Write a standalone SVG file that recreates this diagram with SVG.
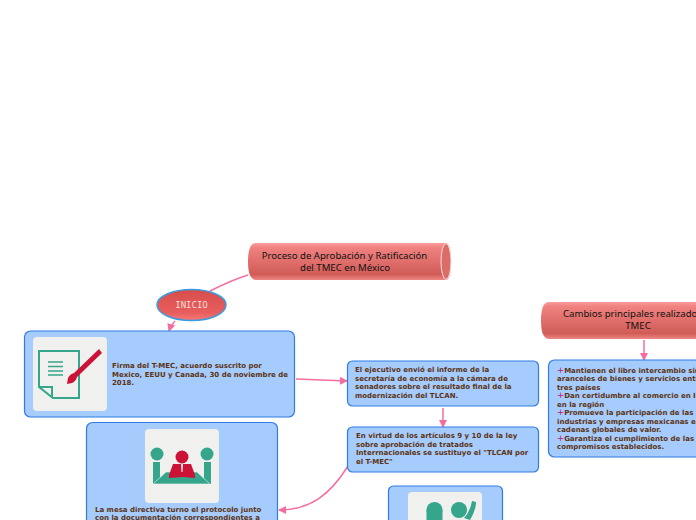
<svg xmlns="http://www.w3.org/2000/svg" width="696" height="520" viewBox="0 0 696 520">
<style>
.box{fill:#a6cbfd;stroke:#2f7de2;stroke-width:1.2}
.body{font:bold 7px "DejaVu Sans",Verdana,sans-serif;fill:#5c3312}
.title{font:9.600px "Noto Sans","Open Sans",sans-serif;fill:#111;text-anchor:middle}
.plus{fill:#c40f70;font-size:8.500px;font-weight:normal}
.conn{fill:none;stroke:#f56da0;stroke-width:1.5}
.ico{fill:#f0f1ee}
.g{fill:#35a58b}
.r{fill:#cc1236}
</style>
<defs>
<linearGradient id="cyl" x1="0" y1="0" x2="0" y2="1">
<stop offset="0" stop-color="#fb9c9a"/><stop offset=".12" stop-color="#f08280"/><stop offset=".85" stop-color="#d15c57"/><stop offset="1" stop-color="#ee8783"/>
</linearGradient>
<linearGradient id="ell" x1="0" y1="0" x2="0" y2="1">
<stop offset="0" stop-color="#d64e4c"/><stop offset=".75" stop-color="#e85e5e"/><stop offset="1" stop-color="#f57a78"/>
</linearGradient>
<marker id="ah" markerWidth="9" markerHeight="8" refX="7" refY="4" orient="auto" markerUnits="userSpaceOnUse"><path d="M0 0L8 4L0 8Z" fill="#f56da0"/></marker>
</defs>
<g id="connectors">
<path class="conn" d="M248 275C235 279 222 285 210 291"/>
<path class="conn" d="M175 321Q171 325 169 331" marker-end="url(#ah)"/>
<path class="conn" d="M296 379L347 381" marker-end="url(#ah)"/>
<path class="conn" d="M443 408V427" marker-end="url(#ah)"/>
<path class="conn" d="M348 466C330 495 310 510 279 510" marker-end="url(#ah)"/>
<path class="conn" d="M644 340V360" marker-end="url(#ah)"/>
</g>
<g id="n-title">
<path d="M256 243H446Q451 243 451 261.500Q451 280 446 280H256Q248 280 248 261.500Q248 243 256 243Z" fill="url(#cyl)"/>
<ellipse cx="446" cy="261.500" rx="5" ry="18" fill="#db6d69" stroke="#fbe0de" stroke-width="1"/>
<text class="title" x="344.500" y="259">Proceso de Aprobación y Ratificación</text>
<text class="title" x="345" y="271">del TMEC en México</text>
</g>
<g id="n-inicio">
<ellipse cx="191.500" cy="305" rx="34.500" ry="15.500" fill="url(#ell)" stroke="#3a9be0" stroke-width="1.500"/>
<text x="191.500" y="308" text-anchor="middle" style="font:9px 'DejaVu Sans Mono',monospace;fill:#fbdcdc">INICIO</text>
</g>
<g id="n-firma">
<rect class="box" x="24.500" y="331" width="270" height="86" rx="6"/>
<rect class="ico" x="33" y="337" width="74" height="74" rx="4"/>
<path d="M39 351H79V398H53L39 387Z" fill="none" stroke="#35a58b" stroke-width="2"/>
<path d="M39 387H52V397" fill="none" stroke="#35a58b" stroke-width="2"/>
<path d="M48 362H63M48 366.500H63M48 371H63M48 375H63" stroke="#35a58b" stroke-width="1.500"/>
<path d="M99 349L102 353L77 377Q76 381 72 383L67 384L68 378Q70 374 74 373Z" class="r"/>
<text class="body"><tspan x="112" y="368">Firma del T-MEC, acuerdo suscrito por</tspan><tspan x="112" y="377">Mexico, EEUU y Canada, 30 de noviembre de</tspan><tspan x="112" y="385">2018.</tspan></text>
</g>
<g id="n-mesa">
<rect class="box" x="86.500" y="422.500" width="191" height="110" rx="6"/>
<rect class="ico" x="145" y="429" width="74" height="74" rx="4"/>
<circle class="g" cx="157" cy="454" r="6.500"/><circle class="g" cx="207" cy="454" r="6.500"/><circle class="r" cx="182" cy="457" r="6.500"/>
<rect class="g" x="153" y="462" width="7" height="22"/><rect class="g" x="204" y="462" width="7" height="22"/>
<path d="M153 484L166 472H197L210 484Z" class="g" stroke="#f0f1ee" stroke-width=".6"/>
<path d="M173 464H191L195 475L195 478L183 477L169 478V475Z" class="r"/>
<path d="M181 464H183L182.500 472H181.500Z" fill="#f0f1ee"/>
<text class="body"><tspan x="95" y="512">La mesa directiva turno el protocolo junto</tspan><tspan x="95" y="520">con la documentación correspondientes a</tspan></text>
</g>
<g id="n-ejecutivo">
<rect class="box" x="347.500" y="361" width="191" height="45" rx="5"/>
<text class="body"><tspan x="355" y="372">El ejecutivo envió el informe de la</tspan><tspan x="355" y="381">secretaría de economía a la cámara de</tspan><tspan x="355" y="389">senadores sobre el resultado final de la</tspan><tspan x="355" y="398">modernización del TLCAN.</tspan></text>
</g>
<g id="n-virtud">
<rect class="box" x="347.500" y="427" width="191" height="45" rx="5"/>
<text class="body"><tspan x="356" y="438">En virtud de los artículos 9 y 10 de la ley</tspan><tspan x="356" y="447">sobre aprobación de tratados</tspan><tspan x="356" y="455">Interrnacionales se sustituyo el "TLCAN por</tspan><tspan x="356" y="464">el T-MEC"</tspan></text>
</g>
<g id="n-senado">
<rect class="box" x="388.500" y="486" width="114" height="50" rx="5"/>
<rect class="ico" x="408" y="492" width="74" height="60" rx="4"/>
<circle class="g" cx="434.500" cy="510" r="8"/><rect class="g" x="426.500" y="510" width="16" height="10"/>
<circle class="g" cx="459" cy="510" r="8"/>
<path d="M472 501Q470 512 464 518L470 520Q476 510 476 502Z" class="g"/>
</g>
<g id="n-cambios">
<path d="M549 302H710V339H549Q541 339 541 320.500Q541 302 549 302Z" fill="url(#cyl)"/>
<text class="title" x="563" y="317" style="text-anchor:start">Cambios principales realizados</text>
<text class="title" x="638" y="329">TMEC</text>
</g>
<g id="n-lista">
<rect class="box" x="548.500" y="360" width="170" height="97" rx="6"/>
<text class="body"><tspan x="557" y="373"><tspan class="plus">+</tspan>Mantienen el libre intercambio sin</tspan><tspan x="557" y="381">aranceles de bienes y servicios entre</tspan><tspan x="557" y="390">tres países</tspan><tspan x="557" y="398"><tspan class="plus">+</tspan>Dan certidumbre al comercio en In</tspan><tspan x="557" y="407">en la región</tspan><tspan x="557" y="415"><tspan class="plus">+</tspan>Promueve la participación de las</tspan><tspan x="557" y="424">industrias y empresas mexicanas en</tspan><tspan x="557" y="432">cadenas globales de valor.</tspan><tspan x="557" y="441"><tspan class="plus">+</tspan>Garantiza el cumplimiento de las n</tspan><tspan x="557" y="449">compromisos establecidos.</tspan></text>
</g>
</svg>
